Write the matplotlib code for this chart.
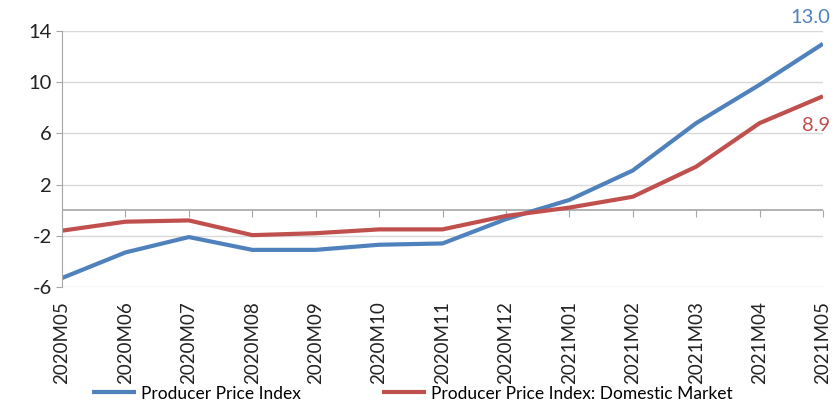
import matplotlib
matplotlib.use("Agg")
import matplotlib.pyplot as plt

months = ["2020M05", "2020M06", "2020M07", "2020M08", "2020M09", "2020M10",
          "2020M11", "2020M12", "2021M01", "2021M02", "2021M03", "2021M04", "2021M05"]
ppi = [-5.3, -3.3, -2.1, -3.1, -3.1, -2.7, -2.6, -0.7, 0.8, 3.1, 6.8, 9.8, 13.0]
ppi_domestic = [-1.6, -0.9, -0.8, -1.95, -1.8, -1.5, -1.5, -0.45, 0.2, 1.05, 3.4, 6.8, 8.9]
yticks = [14, 10, 6, 2, -2, -6]

blue = "#4F81BD"
red = "#C0504D"

plt.rcParams["font.family"] = ["Lato", "DejaVu Sans"]
plt.rcParams["axes.unicode_minus"] = False

fig = plt.figure(figsize=(8.35, 4.05), dpi=100)
ax = fig.add_axes([0.0743, 0.2914, 0.9113, 0.6321])

x = list(range(len(months)))
ax.plot(x, ppi, color=blue, lw=3, label="Producer Price Index", solid_capstyle="butt")
ax.plot(x, ppi_domestic, color=red, lw=3, label="Producer Price Index: Domestic Market",
        solid_capstyle="butt")

ax.set_xlim(0, len(months) - 1)
ax.set_ylim(-6, 14)
ax.set_yticks(yticks)
ax.grid(axis="y", color="#d9d9d9", lw=1)
ax.set_axisbelow(True)
ax.axhline(0, color="#a6a6a6", lw=1.2, zorder=1)

for s in ["top", "right", "bottom"]:
    ax.spines[s].set_visible(False)
ax.spines["left"].set_color("#a6a6a6")
ax.tick_params(axis="y", colors="#a6a6a6", labelcolor="#222222", labelsize=14.5, length=4)

ax.set_xticks(x)
ax.set_xticklabels(months, rotation=90, fontsize=13.5, color="#222222")
ax.tick_params(axis="x", length=0, pad=10)

# tick marks sitting on the zero line
zero_axis = ax.secondary_xaxis(0.3)
zero_axis.set_xticks(x)
zero_axis.set_xticklabels([])
zero_axis.tick_params(axis="x", colors="#a6a6a6", length=5, direction="out")
zero_axis.spines["bottom"].set_visible(False)

ax.annotate(f"{ppi[-1]:.1f}", (x[-1], ppi[-1]), xytext=(5, 19), textcoords="offset points",
            ha="right", va="center", color=blue, fontsize=14.5)
ax.annotate(f"{ppi_domestic[-1]:.1f}", (x[-1], ppi_domestic[-1]), xytext=(5, -21),
            textcoords="offset points", ha="right", va="center", color=red, fontsize=14.5)

fig.legend(loc="lower center", bbox_to_anchor=(0.494, -0.03), ncol=2, frameon=False,
           fontsize=12.5, handlelength=2.5, handletextpad=0.3, columnspacing=4.7)

fig.savefig("out.png", dpi=100)
